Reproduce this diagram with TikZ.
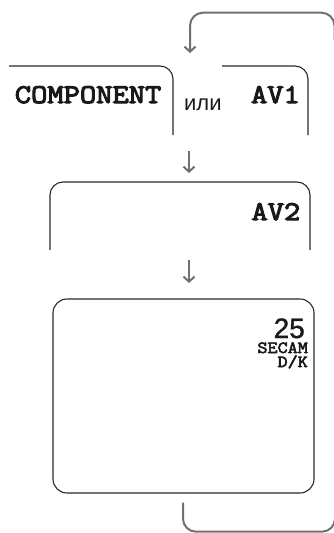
\documentclass[tikz,border=0pt]{standalone}
\usepackage{fontspec}
\setmainfont{Liberation Sans}
\newfontfamily\monofam{Latin Modern Mono}[FakeBold=4, FakeStretch=1.17]
\newfontfamily\monosmall{Latin Modern Mono}[FakeBold=3.5, FakeStretch=1.15]
\newfontfamily\digitfam{Liberation Sans}[FakeBold=1.2]
\usetikzlibrary{arrows.meta}
\definecolor{conn}{HTML}{707070}
\definecolor{boxc}{HTML}{2A2A2A}
\begin{document}
\begin{tikzpicture}[x=1pt,y=-1pt,
  frame/.style={draw=boxc, line width=1.1pt, rounded corners=13pt},
  link/.style={draw=conn, line width=2pt, rounded corners=13pt},
  arr/.style={-{Straight Barb[length=5pt,width=11pt]}},
  bigtxt/.style={font=\monofam\fontsize{27}{27}\selectfont, inner sep=0pt, anchor=base east, text=black!90},
  smalltxt/.style={font=\monosmall\fontsize{17}{17}\selectfont, inner sep=0pt, anchor=base east, text=black!90, text height=9pt, text depth=0pt},
]
\useasboundingbox (0,0) rectangle (334,533);

% frames
\draw[frame] (9,66) -| (173,135);
\draw[frame] (222,66) -| (308,135);
\draw[frame] (50,250) |- (310,182) -- (310,250);
\draw[frame, rounded corners=14pt] (53,299) rectangle (314,493);

% texts
\node[bigtxt] (comp) at (161.5,103) {COMPONENT};
\node[anchor=base west, inner sep=0pt, font=\fontsize{22}{22}\selectfont, text=black!90] (ili) at (184,110.5) {или};
\node[bigtxt] (av1) at (300,103) {AV1};
\node[bigtxt] (av2) at (300.5,220) {AV2};
\node[anchor=base east, inner sep=0pt, font=\digitfam\fontsize{28}{28}\selectfont, text=black!90, text height=19pt, text depth=0pt] (n25) at (305,338) {25};
\node[smalltxt] (secam) at (308,353) {SECAM};
\node[smalltxt] (dk) at (308,367) {D/K};

% connector end points
\coordinate (topR) at (334.5,40);
\coordinate (topL) at (190,53);
\coordinate (a1s) at (189,151);
\coordinate (a1e) at (189,173);
\coordinate (a2s) at (189,260);
\coordinate (a2e) at (189,283);
\coordinate (botS) at (183,502.7);
\coordinate (botR) at (335,500);

% connectors
\draw[link,arr] (topR) -- (334.5,12.7) -| (topL);
\draw[link,arr] (a1s) -- (a1e);
\draw[link,arr] (a2s) -- (a2e);
\draw[link] (botS) |- (botR |- 0,531.7) -- (botR);
\end{tikzpicture}
\end{document}
